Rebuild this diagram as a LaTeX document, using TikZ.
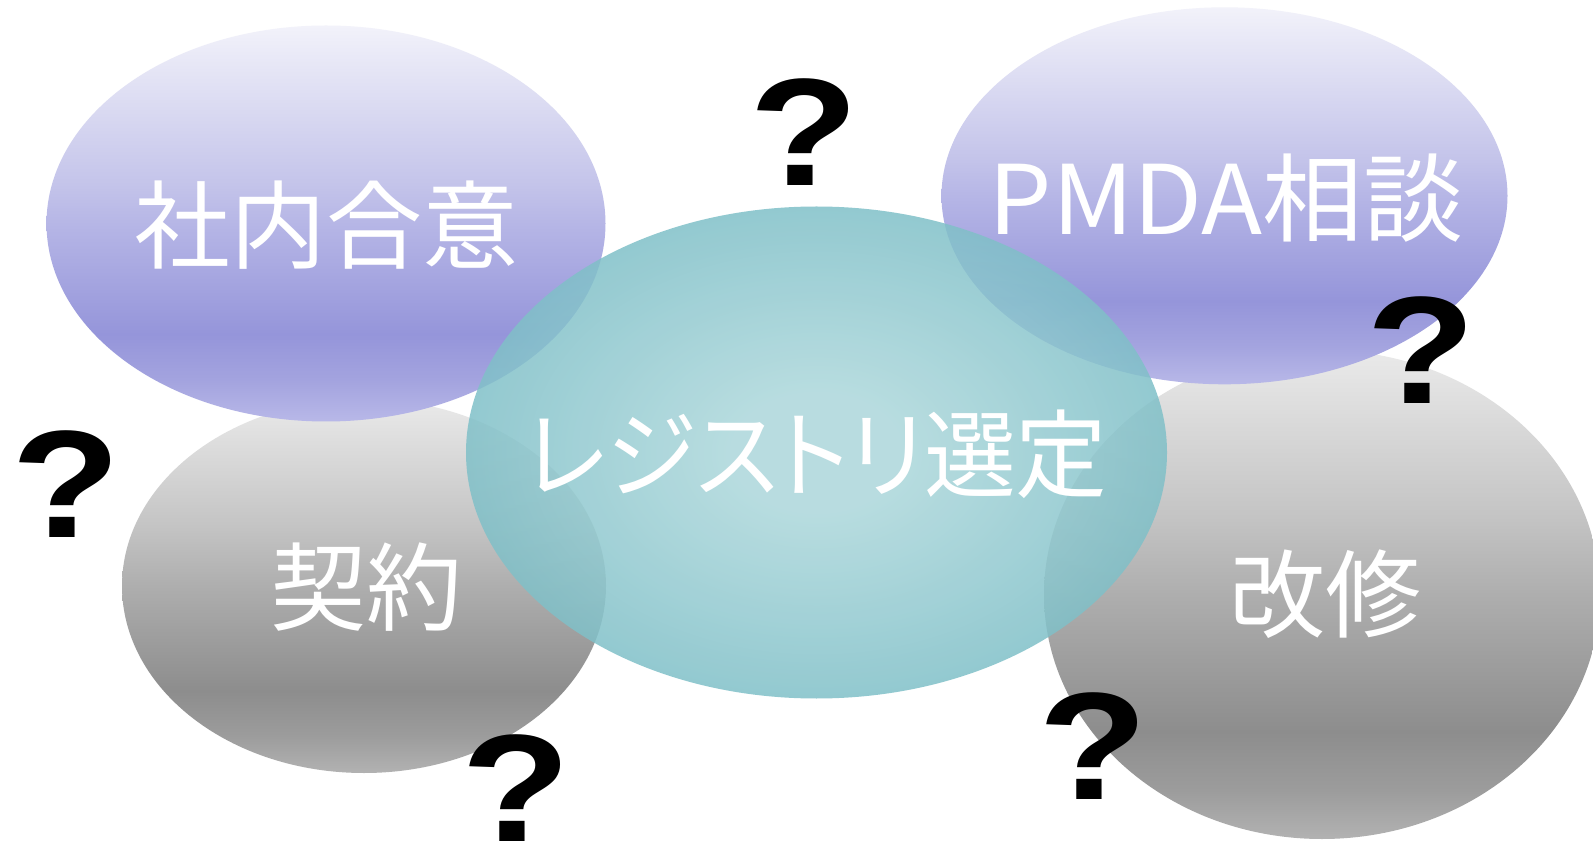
\documentclass[tikz,border=0pt]{standalone}
\usepackage{fontspec}
\usetikzlibrary{shapes.geometric}
\newfontfamily\jfont{Noto Sans CJK JP}
\newfontfamily\jpfont{Noto Sans CJK JP}[RawFeature=+palt]
\newfontfamily\qfont{Liberation Sans}
\definecolor{pu0}{HTML}{B8B8E8}
\definecolor{pu1}{HTML}{A4A4DF}
\definecolor{pu2}{HTML}{9595DA}
\definecolor{pu3}{HTML}{B6B6E6}
\definecolor{pu4}{HTML}{C4C4EA}
\definecolor{pu5}{HTML}{F2F2FA}
\definecolor{gr0}{HTML}{B2B2B2}
\definecolor{gr1}{HTML}{9C9C9C}
\definecolor{gr2}{HTML}{8D8D8D}
\definecolor{gr3}{HTML}{AEAEAE}
\definecolor{gr4}{HTML}{C4C4C4}
\definecolor{gr5}{HTML}{EAEAEA}
\definecolor{te0}{RGB}{172,215,219}
\definecolor{te1}{RGB}{128,192,200}
\pgfdeclareverticalshading{purpsh}{100bp}{color(0bp)=(pu0); color(25bp)=(pu0); color(30bp)=(pu1); color(36bp)=(pu2); color(50bp)=(pu3); color(55bp)=(pu4); color(75bp)=(pu5); color(100bp)=(pu5)}
\pgfdeclareverticalshading{graysh}{100bp}{color(0bp)=(gr0); color(25bp)=(gr0); color(30bp)=(gr1); color(36bp)=(gr2); color(50bp)=(gr3); color(58bp)=(gr4); color(75bp)=(gr5); color(100bp)=(gr5)}
\pgfdeclareradialshading{tealsh}{\pgfpoint{0bp}{0bp}}{color(0bp)=(te0); color(6bp)=(te0); color(25bp)=(te1); color(50bp)=(te1)}
\tikzset{
  blob/.style={ellipse, draw=none, inner sep=0pt},
  purpblob/.style={blob, shading=purpsh},
  grayblob/.style={blob, shading=graysh},
  tealblob/.style={blob, shading=tealsh, fill opacity=0.85},
  lbl/.style={text=white, inner sep=0pt, font=\jfont\fontsize{96}{96}\selectfont},
  qm/.style={text=black, inner sep=0pt, anchor=base, font=\qfont\bfseries\fontsize{153}{153}\selectfont}
}
\begin{document}
\begin{tikzpicture}[x=1pt,y=1pt]
\useasboundingbox (0,0) rectangle (1593,847);
\fill[white] (0,0) rectangle (1593,847);
% gray ellipses
\node[grayblob, minimum width=484pt, minimum height=374pt] (e3) at (364,261) {};
\node[grayblob, minimum width=556pt, minimum height=489pt] (e4) at (1322,252.5) {};
% purple ellipses
\node[purpblob, minimum width=559pt, minimum height=396pt] (e1) at (326,623.5) {};
\node[purpblob, minimum width=566pt, minimum height=377pt] (e2) at (1224.5,651.2) {};
% teal centre
\node[tealblob, minimum width=701pt, minimum height=492pt] (e5) at (816.5,394.5) {};
% labels
\node[lbl] (t1) at (326.5,621.5) {社内合意};
\node[lbl] (t2) at (1226,649) {\scalebox{1.045}[1]{PMDA相談}};
\node[lbl] (t3) at (366,260) {契約};
\node[lbl] (t4) at (1325,252.5) {改修};
\node[lbl, font=\jpfont\fontsize{96}{96}\selectfont] (t5) at (816.5,393) {\scalebox{0.955}[1]{レジストリ選定}};
% question marks
\node[qm] (q1) at (804,661) {\scalebox{1.17}[1]{?}};
\node[qm] (q2) at (1421,443) {\scalebox{1.17}[1]{?}};
\node[qm] (q3) at (66.5,309) {\scalebox{1.17}[1]{?}};
\node[qm] (q4) at (516,6) {\scalebox{1.17}[1]{?}};
\node[qm] (q5) at (1093.5,48) {\scalebox{1.17}[1]{?}};
\end{tikzpicture}
\end{document}
